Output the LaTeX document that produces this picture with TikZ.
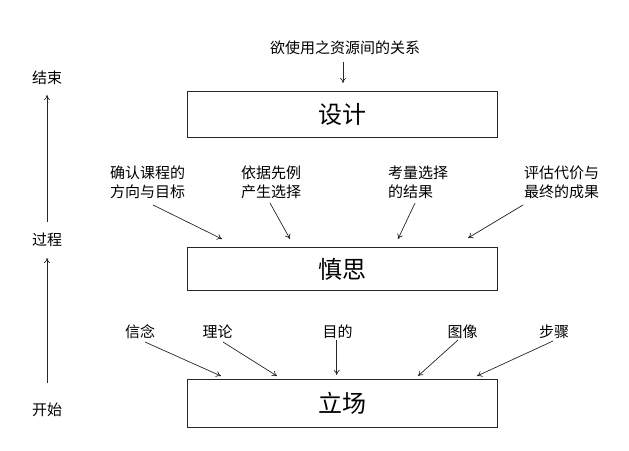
\documentclass[tikz,border=0pt]{standalone}
\usepackage{fontspec}
\setmainfont{Noto Sans CJK SC}
\usetikzlibrary{arrows.meta}
\begin{document}
\begin{tikzpicture}[x=1pt,y=-1pt,
  lbl/.style={font=\fontsize{15}{19.5}\selectfont, inner sep=0pt, align=left},
  bigbox/.style={draw=black!85, line width=0.9pt, minimum width=310pt, minimum height=46pt, inner sep=0pt, font=\fontsize{24}{27}\selectfont},
  arr/.style={-{To[length=5pt,width=6pt]}, line width=0.7pt, black!85}]
\useasboundingbox (0,0) rectangle (629,450);
% boxes
\node[bigbox] (design) at (342,114) {设计};
\node[bigbox, minimum height=43pt] (delib) at (342,269) {慎思};
\node[bigbox, minimum height=48pt] (stance) at (342,403) {立场};
% left axis
\node[lbl] (end) at (47,78) {结束};
\node[lbl] (proc) at (47,240) {过程};
\node[lbl] (start) at (47,410) {开始};
\coordinate (a1s) at (47,222); \coordinate (a1e) at (47,95);
\coordinate (a2s) at (47,383); \coordinate (a2e) at (47,258);
\draw[arr] (a1s) -- (a1e);
\draw[arr] (a2s) -- (a2e);
% top
\node[lbl] (rel) at (345,48) {欲使用之资源间的关系};
\coordinate (t0) at (343,62); \coordinate (t1) at (343,83);
\draw[arr] (t0) -- (t1);
% middle labels
\node[lbl] (m1) at (147.5,182.5) {确认课程的\\方向与目标};
\node[lbl] (m2) at (271,182.5) {依据先例\\产生选择};
\node[lbl] (m3) at (418,182.5) {考量选择\\的结果};
\node[lbl] (m4) at (561.5,182.5) {评估代价与\\最终的成果};
\coordinate (m1s) at (153,205); \coordinate (m1e) at (222,239);
\coordinate (m2s) at (270,203); \coordinate (m2e) at (290,239);
\coordinate (m3s) at (415,203); \coordinate (m3e) at (398,239);
\coordinate (m4s) at (523,205); \coordinate (m4e) at (468,238);
\draw[arr] (m1s) -- (m1e);
\draw[arr] (m2s) -- (m2e);
\draw[arr] (m3s) -- (m3e);
\draw[arr] (m4s) -- (m4e);
% bottom labels
\node[lbl] (b1) at (140,332) {信念};
\node[lbl] (b2) at (217.5,332) {理论};
\node[lbl] (b3) at (337.5,332) {目的};
\node[lbl] (b4) at (462.5,332) {图像};
\node[lbl] (b5) at (554,332) {步骤};
\coordinate (b1s) at (145,342); \coordinate (b1e) at (221,376);
\coordinate (b2s) at (223,342); \coordinate (b2e) at (277,376);
\coordinate (b3s) at (336.7,340); \coordinate (b3e) at (336.7,375);
\coordinate (b4s) at (458,340); \coordinate (b4e) at (418,376);
\coordinate (b5s) at (553,341); \coordinate (b5e) at (477,376);
\draw[arr] (b1s) -- (b1e);
\draw[arr] (b2s) -- (b2e);
\draw[arr] (b3s) -- (b3e);
\draw[arr] (b4s) -- (b4e);
\draw[arr] (b5s) -- (b5e);
\end{tikzpicture}
\end{document}
